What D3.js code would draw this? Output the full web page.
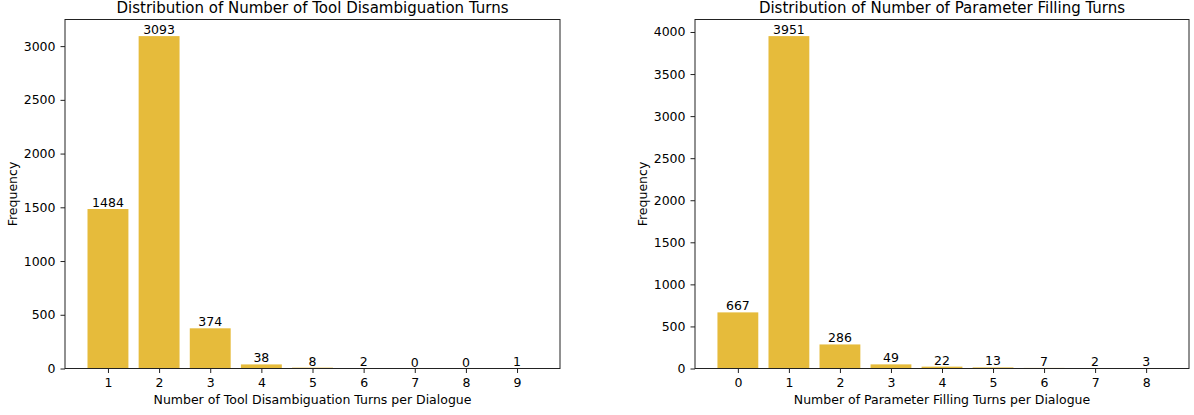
<!DOCTYPE html>
<html><head><meta charset="utf-8">
<script src="https://cdn.jsdelivr.net/npm/d3@7"></script>
<style>body{margin:0;background:#fff;} svg{display:block;font-family:"DejaVu Sans",sans-serif;}</style>
</head><body>
<svg id="chart" width="1194" height="415"></svg>
<script>
const toolTurns = [1,2,3,4,5,6,7,8,9];
const toolCounts = [1484,3093,374,38,8,2,0,0,1];
const toolYTicks = [0,500,1000,1500,2000,2500,3000];
const paramTurns = [0,1,2,3,4,5,6,7,8];
const paramCounts = [667,3951,286,49,22,13,7,2,3];
const paramYTicks = [0,500,1000,1500,2000,2500,3000,3500,4000];
const titles = ["Distribution of Number of Tool Disambiguation Turns","Distribution of Number of Parameter Filling Turns"];
const xLabels = ["Number of Tool Disambiguation Turns per Dialogue","Number of Parameter Filling Turns per Dialogue"];
const yLabel = "Frequency";
const barColor = "#e6bb3b";

const svg = d3.select("#chart");
const panels = [
  {x0:65, x1:560, cats:toolTurns, vals:toolCounts, yt:toolYTicks, title:titles[0], xl:xLabels[0]},
  {x0:695, x1:1189, cats:paramTurns, vals:paramCounts, yt:paramYTicks, title:titles[1], xl:xLabels[1]}
];
const plotTop = 19.5, plotBottom = 368.5;
const fs = "12.5px";
panels.forEach(p => {
  const g = svg.append("g");
  const lo = d3.min(p.cats) - 0.4, hi = d3.max(p.cats) + 0.4, m = (hi - lo) * 0.05;
  const x = d3.scaleLinear().domain([lo - m, hi + m]).range([p.x0, p.x1]);
  const y = d3.scaleLinear().domain([0, d3.max(p.vals) * 1.05]).range([plotBottom, plotTop]);
  const bw = x(0.8) - x(0);
  g.selectAll("rect.bar").data(p.vals).join("rect")
    .attr("x", (d,i) => x(p.cats[i]) - bw/2).attr("width", bw)
    .attr("y", d => y(d)).attr("height", d => plotBottom - y(d)).attr("fill", barColor);
  g.selectAll("text.val").data(p.vals).join("text")
    .attr("x", (d,i) => x(p.cats[i])).attr("y", d => y(d) - 2)
    .attr("text-anchor","middle").attr("font-size",fs).attr("fill","#000").text(d => d);
  const xa = g.append("g").attr("transform", `translate(0,${plotBottom})`)
    .call(d3.axisBottom(x).tickValues(p.cats).tickSize(4.5).tickPadding(5).tickFormat(d3.format("d")));
  const ya = g.append("g").attr("transform", `translate(${p.x0},0)`)
    .call(d3.axisLeft(y).tickValues(p.yt).tickSize(4.5).tickPadding(5).tickFormat(d3.format("d")));
  [xa, ya].forEach(a => {
    a.select(".domain").remove();
    a.selectAll("text").attr("font-size",fs).attr("font-family","DejaVu Sans").attr("fill","#000");
    a.selectAll("line").attr("stroke","#222").attr("stroke-width",1);
  });
  g.append("rect").attr("x", p.x0).attr("y", plotTop).attr("width", p.x1 - p.x0).attr("height", plotBottom - plotTop)
    .attr("fill","none").attr("stroke","#222").attr("stroke-width",1);
  g.append("text").attr("x", (p.x0 + p.x1)/2).attr("y", 12.5).attr("text-anchor","middle")
    .attr("font-size","15px").attr("fill","#000").text(p.title);
  g.append("text").attr("x", (p.x0 + p.x1)/2).attr("y", 404).attr("text-anchor","middle")
    .attr("font-size",fs).attr("fill","#000").text(p.xl);
  g.append("text").attr("transform", `translate(${p.x0 - 48},${(plotTop+plotBottom)/2}) rotate(-90)`)
    .attr("text-anchor","middle").attr("font-size",fs).attr("fill","#000").text(yLabel);
});
</script>
</body></html>
